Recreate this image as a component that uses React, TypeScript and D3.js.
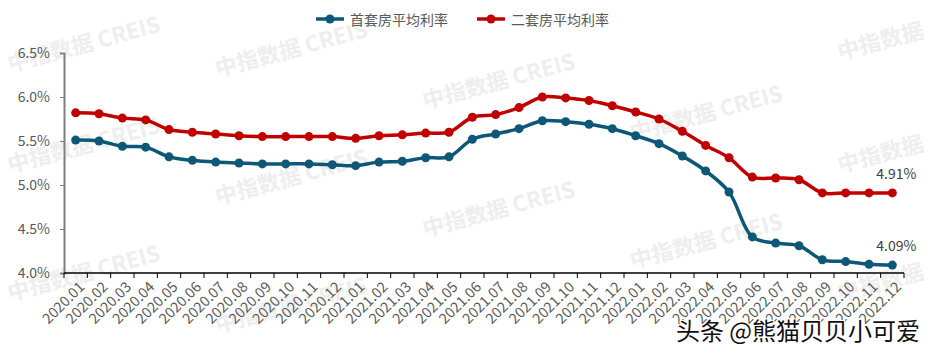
import React, { useRef, useEffect } from 'react';
import * as d3 from 'd3';

// Months shown on the x axis.
const months = [
  '2020.01', '2020.02', '2020.03', '2020.04', '2020.05', '2020.06', '2020.07', '2020.08', '2020.09', '2020.10', '2020.11', '2020.12',
  '2021.01', '2021.02', '2021.03', '2021.04', '2021.05', '2021.06', '2021.07', '2021.08', '2021.09', '2021.10', '2021.11', '2021.12',
  '2022.01', '2022.02', '2022.03', '2022.04', '2022.05', '2022.06', '2022.07', '2022.08', '2022.09', '2022.10', '2022.11', '2022.12',
];

// 首套房平均利率 (%)
const firstHome = [
  5.51, 5.50, 5.44, 5.43, 5.32, 5.28, 5.26, 5.25, 5.24, 5.24, 5.24, 5.23,
  5.22, 5.26, 5.27, 5.31, 5.32, 5.52, 5.58, 5.64, 5.73, 5.72, 5.69, 5.64,
  5.56, 5.47, 5.33, 5.16, 4.92, 4.41, 4.34, 4.31, 4.15, 4.13, 4.10, 4.09,
];

// 二套房平均利率 (%)
const secondHome = [
  5.82, 5.81, 5.76, 5.74, 5.63, 5.60, 5.58, 5.56, 5.55, 5.55, 5.55, 5.55,
  5.53, 5.56, 5.57, 5.59, 5.60, 5.77, 5.80, 5.88, 6.00, 5.99, 5.96, 5.90,
  5.83, 5.75, 5.61, 5.45, 5.31, 5.09, 5.08, 5.06, 4.91, 4.91, 4.91, 4.91,
];

const yTicks = [4.0, 4.5, 5.0, 5.5, 6.0, 6.5];

const seriesNames = ['首套房平均利率', '二套房平均利率'];
const seriesColors = ['#0d5876', '#c00000'];

const watermarkText = '中指数据  CREIS';
const watermarkShort = '中指数据';
const creditText = '头条 @熊猫贝贝小可爱';

const App = () => {
  const ref = useRef<SVGSVGElement>(null);

  useEffect(() => {
    const svg = d3.select(ref.current);
    svg.selectAll('*').remove();

    const W = 933;
    const H = 353;
    const font = '"Noto Sans CJK SC", "Noto Sans", sans-serif';

    const margin = { top: 53, right: 29, bottom: 80, left: 64 };
    const width = W - margin.left - margin.right;
    const height = H - margin.top - margin.bottom;

    svg.append('rect').attr('width', W).attr('height', H).attr('fill', '#fff');

    // Watermarks in the background (only the ones that fit on the page).
    const wm = svg.append('g').attr('font-family', font).attr('font-size', 22)
      .attr('font-weight', 'bold').attr('fill', '#eeeeee');
    for (let c = 0; c < 5; c++) {
      for (let r = 0; r < 3; r++) {
        const x = 10 + c * 207.5;
        const y = Math.max(c === 4 ? 60 : 72, 45 + ((c * 32) % 128) + r * 128);
        if (y > 340) continue;
        wm.append('text')
          .attr('transform', `translate(${x},${y}) rotate(-15)`)
          .text(c === 4 ? watermarkShort : watermarkText);
      }
    }

    const g = svg.append('g').attr('transform', `translate(${margin.left},${margin.top})`);

    const x = d3.scaleBand().domain(months).range([0, width]);
    const y = d3.scaleLinear().domain([4.0, 6.5]).range([height, 0]);
    const cx = (m: string) => (x(m) as number) + x.bandwidth() / 2;

    // Y axis.
    const yAxis = g.append('g')
      .call(d3.axisLeft(y).tickValues(yTicks).tickSize(4).tickFormat(d => `${(+d).toFixed(1)}%`));
    yAxis.select('.domain').attr('stroke', '#7f7f7f').attr('stroke-width', 2);
    yAxis.selectAll('.tick line').attr('stroke', '#7f7f7f');
    yAxis.selectAll('.tick text')
      .attr('x', -14)
      .attr('fill', '#595959')
      .style('font-size', '14px')
      .style('font-family', font);

    // X axis with ticks on the category boundaries.
    const xAxis = g.append('g').attr('transform', `translate(0,${height})`);
    xAxis.append('line').attr('x1', 0).attr('x2', width).attr('stroke', '#000').attr('stroke-width', 1.5);
    xAxis.selectAll('.bound')
      .data(d3.range(months.length + 1))
      .join('line')
      .attr('x1', i => i * x.step())
      .attr('x2', i => i * x.step())
      .attr('y1', 0)
      .attr('y2', 5)
      .attr('stroke', '#000');
    xAxis.selectAll('.lbl')
      .data(months)
      .join('text')
      .attr('transform', d => `translate(${cx(d) + 7},${12}) rotate(-45)`)
      .attr('text-anchor', 'end')
      .attr('dominant-baseline', 'middle')
      .attr('fill', '#595959')
      .style('font-size', '14.5px')
      .style('font-family', font)
      .text(d => d);

    // Lines and markers.
    const seriesData = [firstHome, secondHome];
    const line = d3.line<number>()
      .x((_, i) => cx(months[i]))
      .y(d => y(d))
      .curve(d3.curveCatmullRom.alpha(0.5));

    seriesData.forEach((vals, s) => {
      g.append('path')
        .datum(vals)
        .attr('d', line)
        .attr('fill', 'none')
        .attr('stroke', seriesColors[s])
        .attr('stroke-width', 3.5)
        .attr('stroke-linejoin', 'round');
      g.selectAll(`.pt${s}`)
        .data(vals)
        .join('circle')
        .attr('cx', (_, i) => cx(months[i]))
        .attr('cy', d => y(d))
        .attr('r', 4.5)
        .attr('fill', seriesColors[s]);

      // Last value label.
      const last = vals[vals.length - 1];
      g.append('text')
        .attr('x', cx(months[months.length - 1]) + 4)
        .attr('y', y(last) - 14)
        .attr('text-anchor', 'middle')
        .attr('fill', '#404040')
        .style('font-size', '14px')
        .style('font-family', font)
        .text(`${last.toFixed(2)}%`);
    });

    // Legend.
    const legendX = [316, 477];
    seriesNames.forEach((name, s) => {
      const lg = svg.append('g').attr('transform', `translate(${legendX[s]},19)`);
      lg.append('line').attr('x1', 0).attr('x2', 28).attr('stroke', seriesColors[s]).attr('stroke-width', 3.5);
      lg.append('circle').attr('cx', 14).attr('r', 4.5).attr('fill', seriesColors[s]);
      lg.append('text')
        .attr('x', 34)
        .attr('dominant-baseline', 'central')
        .attr('fill', '#595959')
        .style('font-size', '14px')
        .style('font-family', font)
        .text(name);
    });

    // Credit watermark bottom right.
    svg.append('text')
      .attr('x', 920)
      .attr('y', 340)
      .attr('text-anchor', 'end')
      .attr('fill', '#111')
      .attr('stroke', '#fff')
      .attr('stroke-width', 2)
      .attr('paint-order', 'stroke')
      .style('font-size', '24px')
      .style('font-family', font)
      .text(creditText);
  }, []);

  return <svg ref={ref} width={933} height={353} style={{ display: 'block', position: 'absolute', left: 0, top: 0 }} />;
};

export default App;
